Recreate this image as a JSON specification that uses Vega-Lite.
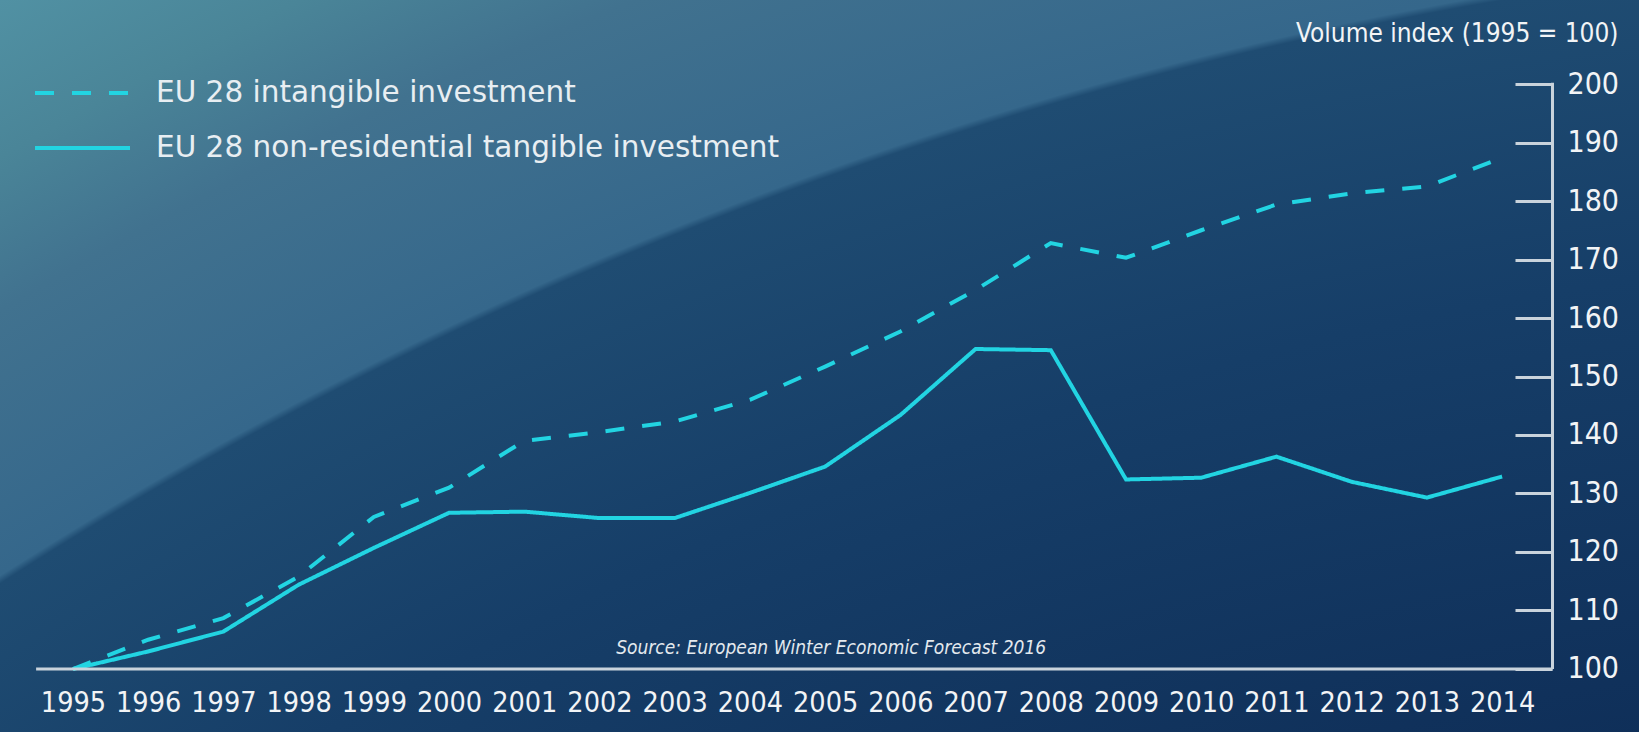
{
  "$schema": "https://vega.github.io/schema/vega-lite/v6.json",
  "width": 1639,
  "height": 732,
  "autosize": "none",
  "padding": 0,
  "background": "#133760",
  "config": {
    "view": {
      "stroke": null,
      "fill": {
        "gradient": "radial",
        "x1": 1.3319, "y1": 2.7038, "r1": 0,
        "x2": 1.3319, "y2": 2.7038, "r2": 2.7822,
        "stops": [
          {"offset": 0, "color": "#0d2a52"},
          {"offset": 0.72, "color": "#0f2f59"},
          {"offset": 0.82, "color": "#163e68"},
          {"offset": 0.885, "color": "#1f4c72"},
          {"offset": 0.8865, "color": "#35678b"},
          {"offset": 0.936, "color": "#41728f"},
          {"offset": 0.965, "color": "#4a8598"},
          {"offset": 1, "color": "#5293a5"}
        ]
      }
    }
  },
  "data": {
    "values": [
      {"year": 1995, "series": "EU 28 intangible investment", "value": 100},
      {"year": 1996, "series": "EU 28 intangible investment", "value": 105},
      {"year": 1997, "series": "EU 28 intangible investment", "value": 108.7},
      {"year": 1998, "series": "EU 28 intangible investment", "value": 115.8},
      {"year": 1999, "series": "EU 28 intangible investment", "value": 126},
      {"year": 2000, "series": "EU 28 intangible investment", "value": 131},
      {"year": 2001, "series": "EU 28 intangible investment", "value": 139},
      {"year": 2002, "series": "EU 28 intangible investment", "value": 140.5},
      {"year": 2003, "series": "EU 28 intangible investment", "value": 142.3},
      {"year": 2004, "series": "EU 28 intangible investment", "value": 146},
      {"year": 2005, "series": "EU 28 intangible investment", "value": 151.7},
      {"year": 2006, "series": "EU 28 intangible investment", "value": 157.7},
      {"year": 2007, "series": "EU 28 intangible investment", "value": 164.8},
      {"year": 2008, "series": "EU 28 intangible investment", "value": 172.8},
      {"year": 2009, "series": "EU 28 intangible investment", "value": 170.3},
      {"year": 2010, "series": "EU 28 intangible investment", "value": 175},
      {"year": 2011, "series": "EU 28 intangible investment", "value": 179.4},
      {"year": 2012, "series": "EU 28 intangible investment", "value": 181.3},
      {"year": 2013, "series": "EU 28 intangible investment", "value": 182.5},
      {"year": 2014, "series": "EU 28 intangible investment", "value": 187.4},
      {"year": 1995, "series": "EU 28 non-residential tangible investment", "value": 100},
      {"year": 1996, "series": "EU 28 non-residential tangible investment", "value": 103},
      {"year": 1997, "series": "EU 28 non-residential tangible investment", "value": 106.4},
      {"year": 1998, "series": "EU 28 non-residential tangible investment", "value": 114.4},
      {"year": 1999, "series": "EU 28 non-residential tangible investment", "value": 120.7},
      {"year": 2000, "series": "EU 28 non-residential tangible investment", "value": 126.7},
      {"year": 2001, "series": "EU 28 non-residential tangible investment", "value": 126.9},
      {"year": 2002, "series": "EU 28 non-residential tangible investment", "value": 125.8},
      {"year": 2003, "series": "EU 28 non-residential tangible investment", "value": 125.8},
      {"year": 2004, "series": "EU 28 non-residential tangible investment", "value": 130.1},
      {"year": 2005, "series": "EU 28 non-residential tangible investment", "value": 134.6},
      {"year": 2006, "series": "EU 28 non-residential tangible investment", "value": 143.4},
      {"year": 2007, "series": "EU 28 non-residential tangible investment", "value": 154.7},
      {"year": 2008, "series": "EU 28 non-residential tangible investment", "value": 154.5},
      {"year": 2009, "series": "EU 28 non-residential tangible investment", "value": 132.4},
      {"year": 2010, "series": "EU 28 non-residential tangible investment", "value": 132.7},
      {"year": 2011, "series": "EU 28 non-residential tangible investment", "value": 136.3},
      {"year": 2012, "series": "EU 28 non-residential tangible investment", "value": 132},
      {"year": 2013, "series": "EU 28 non-residential tangible investment", "value": 129.3},
      {"year": 2014, "series": "EU 28 non-residential tangible investment", "value": 132.9}
    ]
  },
  "encoding": {
    "x": {
      "field": "year",
      "type": "quantitative",
      "scale": {"domain": [1994.03, 2015.82], "nice": false, "zero": false},
      "axis": {
        "orient": "bottom",
        "title": null,
        "values": [1995, 1996, 1997, 1998, 1999, 2000, 2001, 2002, 2003, 2004, 2005, 2006, 2007, 2008, 2009, 2010, 2011, 2012, 2013, 2014],
        "format": "d",
        "offset": -63,
        "domain": false,
        "ticks": false,
        "tickSize": 0,
        "grid": false,
        "labelFont": "DejaVu Sans Condensed, DejaVu Sans",
        "labelFontSize": 28.5,
        "labelColor": "#f2f4f6",
        "labelPadding": 33,
        "labelBaseline": "middle",
        "labelFlush": false,
        "labelOverlap": false
      }
    },
    "y": {
      "field": "value",
      "type": "quantitative",
      "scale": {"domain": [89.23, 214.36], "nice": false, "zero": false},
      "axis": {
        "orient": "right",
        "title": "Volume index (1995 = 100)",
        "offset": -87,
        "values": [100, 110, 120, 130, 140, 150, 160, 170, 180, 190, 200],
        "domain": false,
        "grid": false,
        "ticks": true,
        "tickSize": -37,
        "tickWidth": 3,
        "tickColor": "#c9d3dc",
        "labelPadding": 52,
        "labelFont": "DejaVu Sans Condensed, DejaVu Sans",
        "labelFontSize": 30,
        "labelColor": "#f2f4f6",
        "labelAlign": "left",
        "labelBaseline": "middle",
        "labelOverlap": false,
        "labelFlush": false,
        "titleAngle": 0,
        "titleX": 66,
        "titleY": 33,
        "titleAlign": "right",
        "titleBaseline": "middle",
        "titleFont": "DejaVu Sans Condensed, DejaVu Sans",
        "titleFontSize": 26,
        "titleFontWeight": "normal",
        "titleColor": "#f2f4f6"
      }
    }
  },
  "layer": [
    {
      "mark": {"type": "line", "stroke": "#22d4e2", "strokeWidth": 4, "strokeCap": "butt"},
      "encoding": {
        "strokeDash": {
          "field": "series",
          "type": "nominal",
          "scale": {
            "domain": ["EU 28 intangible investment", "EU 28 non-residential tangible investment"],
            "range": [[19, 18], [1, 0]]
          },
          "legend": {
            "orient": "none",
            "legendX": 61.5,
            "legendY": 72,
            "title": null,
            "symbolType": "M-2.5,0H2.5",
            "symbolSize": 1444,
            "symbolStrokeWidth": 4,
            "symbolStrokeColor": "#22d4e2",
            "labelFont": "DejaVu Sans",
            "labelFontSize": 29.5,
            "labelColor": "#e8eef2",
            "labelOffset": 52.5,
            "labelLimit": 0,
            "rowPadding": 19
          }
        }
      }
    },
    {
      "data": {"values": [{"year": 1994.51, "year2": 2014.67, "value": 100}]},
      "mark": {"type": "rule", "stroke": "#c9d3dc", "strokeWidth": 3},
      "encoding": {
        "x2": {"field": "year2"}
      }
    },
    {
      "data": {"values": [{"year": 2014.67, "value": 100, "value2": 200.2}]},
      "mark": {"type": "rule", "stroke": "#c9d3dc", "strokeWidth": 3},
      "encoding": {
        "y2": {"field": "value2"}
      }
    },
    {
      "data": {"values": [{"year": 2005.08, "value": 103.6, "label": "Source: European Winter Economic Forecast 2016"}]},
      "mark": {"type": "text", "font": "DejaVu Sans Condensed, DejaVu Sans", "fontSize": 19, "fontStyle": "italic", "color": "#e3e9ee", "align": "center", "baseline": "middle"},
      "encoding": {
        "text": {"field": "label"}
      }
    }
  ]
}
